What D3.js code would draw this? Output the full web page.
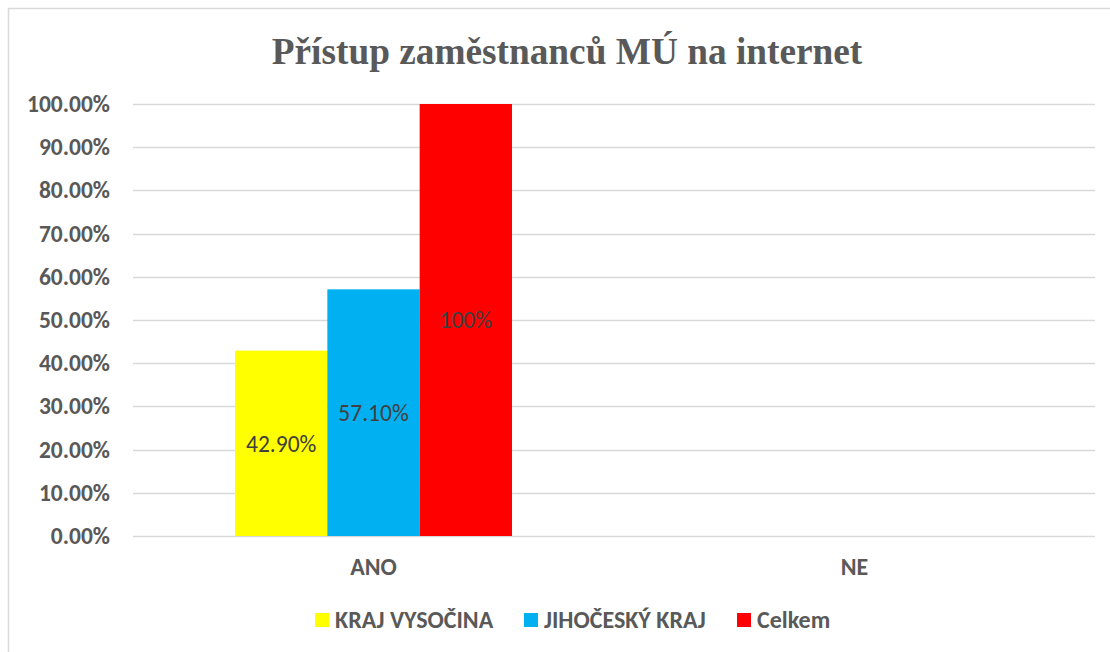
<!DOCTYPE html>
<html>
<head>
<meta charset="utf-8">
<script src="https://cdn.jsdelivr.net/npm/d3@7"></script>
<style>
  body { margin: 0; background: #fff; }
  svg { display: block; }
</style>
</head>
<body>
<svg id="chart" width="1110" height="652"></svg>
<script>
// chart data
var categories = ["ANO", "NE"];
var series_names = ["KRAJ VYSOČINA", "JIHOČESKÝ KRAJ", "Celkem"];
var series_colors = ["#ffff00", "#00b0f0", "#ff0000"];
var values_ano = [0.429, 0.571, 1.0];
var values_ne = [null, null, null];
var value_labels = ["42.90%", "57.10%", "100%"];
var y_ticks = [0, 0.1, 0.2, 0.3, 0.4, 0.5, 0.6, 0.7, 0.8, 0.9, 1.0];

var FONT = "Calibri, Carlito, Lato, sans-serif";
var TEXT_COLOR = "#595959";

var svg = d3.select("#chart");

// outer chart border (only top / left visible in the picture)
svg.append("rect")
    .attr("x", 8.5).attr("y", 8.5)
    .attr("width", 1120).attr("height", 660)
    .attr("fill", "none")
    .attr("stroke", "#d9d9d9")
    .attr("stroke-width", 1.5);

var margin = {left: 133, right: 1095, top: 104, bottom: 536};

var x0 = d3.scaleBand()
    .domain(categories)
    .range([margin.left, margin.right]);

var x1 = d3.scaleBand()
    .domain(d3.range(series_names.length))
    .range([0, x0.bandwidth()])
    .paddingOuter(1.105)
    .paddingInner(0);

var y = d3.scaleLinear()
    .domain([0, 1])
    .range([margin.bottom, margin.top]);

// title
svg.append("text")
    .attr("x", 567).attr("y", 64)
    .attr("text-anchor", "middle")
    .attr("font-family", "'Times New Roman', 'Liberation Serif', serif")
    .attr("font-weight", "bold")
    .attr("font-size", 37.3)
    .attr("fill", TEXT_COLOR)
    .text("Přístup zaměstnanců MÚ na internet");

// gridlines
svg.append("g")
    .selectAll("line")
    .data(y_ticks)
    .join("line")
    .attr("x1", margin.left).attr("x2", margin.right)
    .attr("y1", function(d) { return Math.round(y(d)) + 0.5; })
    .attr("y2", function(d) { return Math.round(y(d)) + 0.5; })
    .attr("stroke", "#d9d9d9")
    .attr("stroke-width", 1.5);

// y axis labels
var yAxis = d3.axisLeft(y)
    .tickValues(y_ticks)
    .tickFormat(d3.format(".2%"))
    .tickSize(0)
    .tickPadding(23);

var yg = svg.append("g")
    .attr("transform", "translate(" + margin.left + ",0)")
    .call(yAxis);
yg.select(".domain").remove();
yg.selectAll("text")
    .attr("font-family", FONT)
    .attr("font-weight", "bold")
    .attr("font-size", 23.5)
    .attr("fill", TEXT_COLOR);

// x axis labels
var xAxis = d3.axisBottom(x0).tickSize(0).tickPadding(22);
var xg = svg.append("g")
    .attr("transform", "translate(0," + margin.bottom + ")")
    .call(xAxis);
xg.select(".domain").remove();
xg.selectAll("text")
    .attr("font-family", FONT)
    .attr("font-weight", "bold")
    .attr("font-size", 24)
    .attr("fill", TEXT_COLOR);

// bars
var rows = [
    {cat: "ANO", vals: values_ano},
    {cat: "NE", vals: values_ne}
];

var groups = svg.append("g")
    .selectAll("g")
    .data(rows)
    .join("g")
    .attr("transform", function(d) { return "translate(" + x0(d.cat) + ",0)"; });

groups.selectAll("rect")
    .data(function(d) {
        return d.vals.map(function(v, i) { return {i: i, v: v}; })
            .filter(function(e) { return e.v !== null; });
    })
    .join("rect")
    .attr("x", function(d) { return x1(d.i); })
    .attr("width", x1.bandwidth())
    .attr("y", function(d) { return y(d.v); })
    .attr("height", function(d) { return y(0) - y(d.v); })
    .attr("fill", function(d) { return series_colors[d.i]; });

// data labels, centered in bars
groups.selectAll("text")
    .data(function(d) {
        return d.vals.map(function(v, i) { return {i: i, v: v}; })
            .filter(function(e) { return e.v !== null; });
    })
    .join("text")
    .attr("x", function(d) { return x1(d.i) + x1.bandwidth() / 2; })
    .attr("y", function(d) { return (y(d.v) + y(0)) / 2; })
    .attr("dy", "0.35em")
    .attr("text-anchor", "middle")
    .attr("font-family", FONT)
    .attr("font-size", 23.5)
    .attr("fill", "#404040")
    .text(function(d) { return value_labels[d.i]; });

// legend
var legend_x = [315, 524, 737];
var legend = svg.append("g")
    .selectAll("g")
    .data(series_names)
    .join("g")
    .attr("transform", function(d, i) { return "translate(" + legend_x[i] + ",613)"; });

legend.append("rect")
    .attr("width", 14).attr("height", 14)
    .attr("fill", function(d, i) { return series_colors[i]; });

legend.append("text")
    .attr("x", 20).attr("y", 7)
    .attr("dy", "0.35em")
    .attr("font-family", FONT)
    .attr("font-weight", "bold")
    .attr("font-size", 24)
    .attr("fill", TEXT_COLOR)
    .text(function(d) { return d; });
</script>
</body>
</html>
